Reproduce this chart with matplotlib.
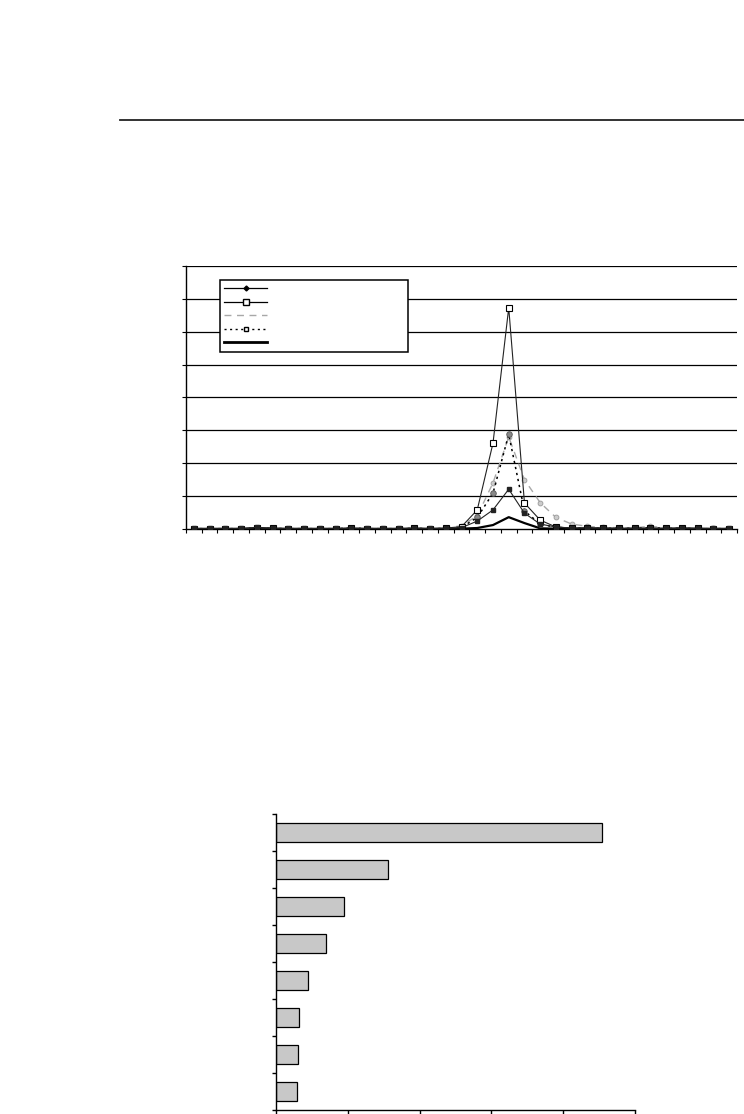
import numpy as np
import matplotlib
matplotlib.use("Agg")
import matplotlib.pyplot as plt
from matplotlib.lines import Line2D

# line chart data (35 categories, peak at index 20)
n_points = 35
s_diamond = [0.2, 0.2, 0.2, 0.2, 0.5, 0.3, 0.2, 0.2, 0.2, 0.2, 0.3, 0.2, 0.2, 0.2, 0.3, 0.2, 0.2, 0.4,
             2.4, 5.8, 12.1, 4.8, 1.5, 0.6, 0.3, 0.3, 0.3, 0.2, 0.2, 0.2, 0.2, 0.2, 0.2, 0.2, 0.2]
s_square = [0.1, 0.1, 0.1, 0.1, 0.3, 0.2, 0.1, 0.1, 0.1, 0.1, 0.2, 0.1, 0.1, 0.1, 0.2, 0.1, 0.3, 0.7,
            5.8, 26.1, 67.3, 7.9, 2.7, 0.6, 0.3, 0.4, 0.3, 0.2, 0.2, 0.3, 0.2, 0.4, 0.2, 0.1, 0.1]
s_dashed = [0.1, 0.1, 0.1, 0.1, 0.4, 0.2, 0.1, 0.1, 0.1, 0.1, 0.2, 0.1, 0.1, 0.1, 0.2, 0.1, 0.3, 1.0,
            4.0, 14.0, 28.0, 15.0, 8.0, 3.5, 1.5, 0.8, 0.5, 0.4, 0.4, 0.8, 0.4, 0.3, 0.2, 0.2, 0.1]
s_dotted = [0.1, 0.1, 0.1, 0.1, 0.3, 0.2, 0.1, 0.1, 0.1, 0.1, 0.3, 0.1, 0.1, 0.1, 0.2, 0.1, 0.2, 0.5,
            3.5, 10.9, 28.8, 5.5, 1.5, 0.5, 0.3, 0.3, 0.2, 0.2, 0.2, 0.4, 0.2, 0.2, 0.1, 0.1, 0.1]
s_thick = [0.0, 0.0, 0.0, 0.0, 0.1, 0.0, 0.0, 0.0, 0.0, 0.0, 0.0, 0.0, 0.0, 0.0, 0.0, 0.0, 0.0, 0.1,
           0.3, 1.2, 3.6, 1.8, 0.2, 0.1, 0.0, 0.0, 0.0, 0.0, 0.0, 0.0, 0.0, 0.0, 0.0, 0.0, 0.0]

# bar chart data (top to bottom)
bar_values = [4.54, 1.56, 0.95, 0.69, 0.45, 0.32, 0.30, 0.29]

W, H = 744, 1114
fig = plt.figure(figsize=(W / 100, H / 100), dpi=100)

# rule across the page
fig.add_artist(Line2D([120 / W, 1.0], [1 - 120 / H] * 2, color="#222222", lw=1.3))

# ---- line chart ----
ax = fig.add_axes([186 / W, 1 - 529 / H, (737 - 186) / W, (529 - 266) / H])
x = np.arange(n_points)
for yv in range(10, 90, 10):
    ax.axhline(yv, color="black", lw=0.9, zorder=0)

ax.plot(x, s_thick, color="black", lw=1.6, zorder=2)
ax.plot(x, s_dashed, color="#a8a8a8", lw=1.0, dashes=(5, 4), marker="o", ms=3.5,
        mfc="#cccccc", mec="#999999", mew=0.6, zorder=3)
ax.plot(x, s_dotted, color="black", lw=1.1, ls=(0, (1.5, 2.5)), marker="o", ms=4,
        mfc="#888888", mec="#555555", mew=0.6, zorder=4)
ax.plot(x, s_square, color="#222222", lw=0.8, marker="s", ms=5,
        mfc="white", mec="black", mew=0.8, zorder=5)
ax.plot(x, s_diamond, color="#222222", lw=0.8, marker="s", ms=3.5,
        mfc="#222222", mec="#222222", zorder=6)

# legend handles in original order
lg_handles = [
    Line2D([], [], color="black", lw=0.9, marker="D", ms=2.5, mfc="black", mec="black"),
    Line2D([], [], color="black", lw=0.9, marker="s", ms=3.8, mfc="white", mec="black"),
    Line2D([], [], color="#a8a8a8", lw=1.0, dashes=(5, 4)),
    Line2D([], [], color="black", lw=1.0, ls=(0, (1.5, 2.5)), marker="s", ms=3.5, mfc="white", mec="black"),
    Line2D([], [], color="black", lw=2.0),
]
leg = ax.legend(lg_handles, [""] * 5, loc="upper left",
                bbox_to_anchor=((220 - 186) / 551, 1 - (280 - 266) / 263, (408 - 220) / 551, 0),
                mode="expand", borderaxespad=0, handlelength=3.9, fontsize=8,
                labelspacing=0.32, borderpad=0.35, fancybox=False, framealpha=1)
leg.get_frame().set_edgecolor("black")
leg.get_frame().set_linewidth(1.1)

ax.set_xlim(-0.5, n_points - 0.5)
ax.set_ylim(0, 80)
ax.set_xticks(np.arange(-0.5, n_points, 1))
ax.set_yticks(np.arange(0, 90, 10))
ax.set_xticklabels([])
ax.set_yticklabels([])
ax.tick_params(direction="out", length=3, width=0.8, color="black")
for side in ["top", "right"]:
    ax.spines[side].set_visible(False)
ax.spines["left"].set_linewidth(1.0)
ax.spines["bottom"].set_linewidth(1.0)

# ---- bar chart ----
bx = fig.add_axes([276 / W, 1 - 1110 / H, (635 - 276) / W, (1110 - 814) / H])
pos = np.arange(len(bar_values))
bx.barh(pos, bar_values, height=0.5, color="#c8c8c8", edgecolor="black", lw=0.9)
bx.set_xlim(0, 5)
bx.set_ylim(len(bar_values) - 0.5, -0.5)
bx.set_xticks(np.arange(0, 6, 1))
bx.set_yticks(np.arange(-0.5, len(bar_values), 1))
bx.set_xticklabels([])
bx.set_yticklabels([])
bx.tick_params(direction="out", length=3, width=1.0, color="black")
for side in ["top", "right"]:
    bx.spines[side].set_visible(False)
bx.spines["left"].set_linewidth(1.0)
bx.spines["bottom"].set_linewidth(1.0)

fig.savefig("out.png", dpi=100)
